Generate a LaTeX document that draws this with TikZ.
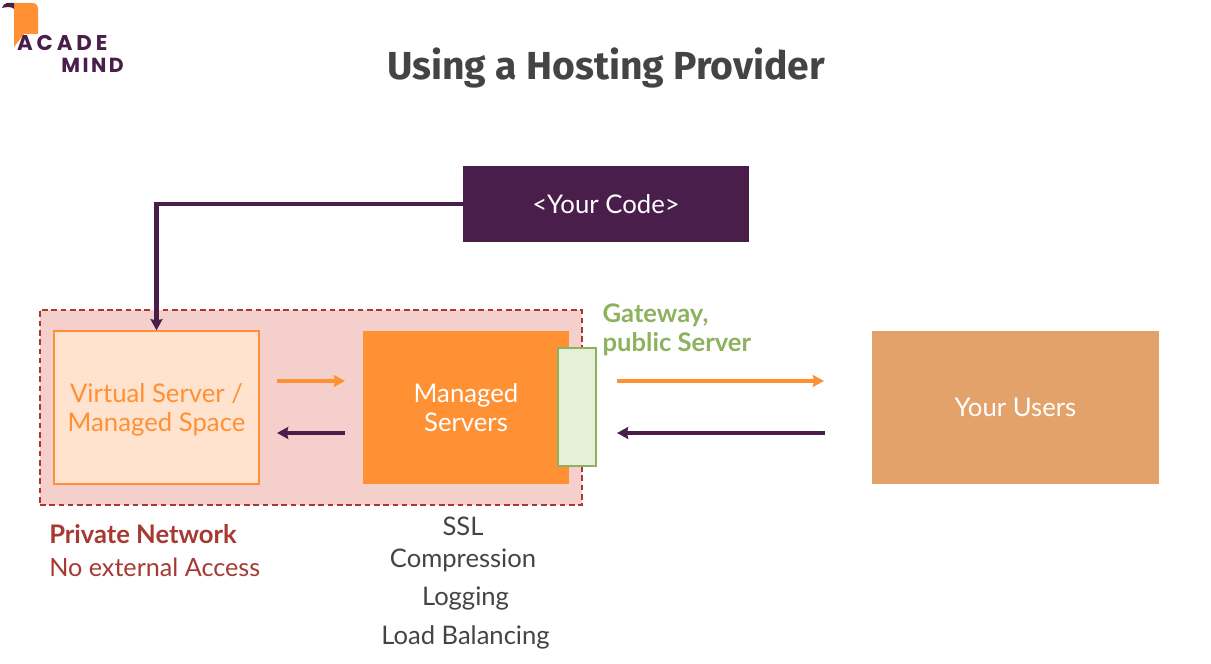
\documentclass[tikz,border=0pt]{standalone}
\usepackage{fontspec}
\usetikzlibrary{arrows.meta}
\setmainfont{Lato}
\newfontfamily\titlefont{Fira Sans}
\newfontfamily\logofont[LetterSpace=12]{Poppins}
\newfontfamily\logowidefont[LetterSpace=18]{Poppins}
\definecolor{plum}{HTML}{4A1E4A}
\definecolor{srvorange}{HTML}{FF9033}
\definecolor{srvpeach}{HTML}{FFE3CF}
\definecolor{netpink}{HTML}{F5CFCB}
\definecolor{netred}{HTML}{A63A33}
\definecolor{usertan}{HTML}{E3A26A}
\definecolor{gatefill}{HTML}{E5EFDA}
\definecolor{gategreen}{HTML}{8CB25E}
\definecolor{inkgrey}{HTML}{444444}
\begin{document}
\begin{tikzpicture}[
  >={Stealth[length=8pt,width=8.5pt,inset=1pt]},
  srvnode/.style={draw=none, minimum width=5.125cm, minimum height=3.825cm, inner sep=0pt, align=center, font={\fontsize{18.3}{20.6}\selectfont}},
  netnode/.style={draw=netred, fill=netpink, line width=0.9pt, dash pattern=on 4pt off 2.6pt, minimum width=13.55cm, minimum height=4.875cm},
  srvedge/.style={->, draw=plum, line width=2.9pt},
  srvedgeout/.style={->, draw=srvorange, line width=2.9pt},
  srvlbl/.style={font={\fontsize{18.2}{20.6}\selectfont}, text=inkgrey, inner sep=0pt},
  netlbl/.style={font={\fontsize{17.9}{20.6}\selectfont}, text=netred, anchor=west, inner sep=0pt},
  logolbl/.style={font={\logofont\bfseries\fontsize{14.5}{16}\selectfont}, text=plum, anchor=west, inner sep=0pt}
]
\useasboundingbox (0,0) rectangle (30.275,16.6);
\node[font={\titlefont\bfseries\fontsize{27.8}{30}\selectfont}, text=inkgrey, inner sep=0pt] (title) at (15.15,14.9) {Using a Hosting Provider};
% logo
\fill[srvorange] (0.35,15.425) -- (0.35,16.525) -- (0.8,16.525) .. controls (0.9,16.525) and (0.95,16.47) .. (0.95,16.37) -- (0.95,15.75) -- (0.6,15.75) -- cycle;
\fill[plum] (0.05,16.4) .. controls (0.1,16.55) and (0.2,16.53) .. (0.35,16.525) -- (0.35,16.38) .. controls (0.25,16.45) and (0.15,16.42) .. (0.05,16.4) -- cycle;
\node[logolbl, font={\logowidefont\bfseries\fontsize{15.2}{16}\selectfont}] (acade) at (0.42,15.525) {ACADE};
\node[logolbl] (mind) at (1.53,14.975) {MIND};
% boxes
\node[srvnode, fill=plum, text=white, minimum width=7.15cm, minimum height=1.9cm] (code) at (15.15,11.5) {<Your Code>};
\node[netnode] (net) at (7.775,6.4125) {};
\node[srvnode, draw=srvorange, fill=srvpeach, text=srvorange, line width=0.9pt] (virtual) at (3.9125,6.4125) {\rule{0pt}{17pt}Virtual Server /\\Managed Space};
\node[srvnode, fill=srvorange, text=white, minimum width=5.15cm] (managed) at (11.65,6.4125) {Managed\\Servers};
\node[srvnode, draw=gategreen, fill=gatefill, line width=0.9pt, minimum width=0.95cm, minimum height=2.95cm] (gate) at (14.425,6.425) {};
\node[srvnode, fill=usertan, text=white, minimum width=7.175cm] (users) at (25.3875,6.4125) {Your Users};
% connectors
\coordinate (a1) at (6.925,7.075);
\coordinate (a2) at (8.625,7.075);
\coordinate (b1) at (8.625,5.775);
\coordinate (b2) at (6.925,5.775);
\coordinate (c1) at (15.425,7.075);
\coordinate (c2) at (20.6,7.075);
\coordinate (d1) at (20.625,5.775);
\coordinate (d2) at (15.425,5.775);
\draw[srvedge] (code.west) -| (virtual.north);
\draw[srvedgeout] (a1) -- (a2);
\draw[srvedge] (b1) -- (b2);
\draw[srvedgeout] (c1) -- (c2);
\draw[srvedge] (d1) -- (d2);
% labels
\node[font={\bfseries\fontsize{18.2}{20.6}\selectfont}, text=gategreen, align=left, anchor=west, inner sep=0pt] (gatelbl) at (15.06,8.36) {Gateway,\\public Server};
\node[netlbl, font={\bfseries\fontsize{18.2}{20.6}\selectfont}] (private) at (1.225,3.25) {Private Network};
\node[netlbl] (noaccess) at (1.225,2.425) {No external Access};
\node[srvlbl] (ssl) at (11.575,3.45) {SSL};
\node[srvlbl] (compress) at (11.575,2.6) {Compression};
\node[srvlbl] (logging) at (11.6375,1.625) {Logging};
\node[srvlbl] (balance) at (11.6375,0.675) {Load Balancing};
\end{tikzpicture}
\end{document}
